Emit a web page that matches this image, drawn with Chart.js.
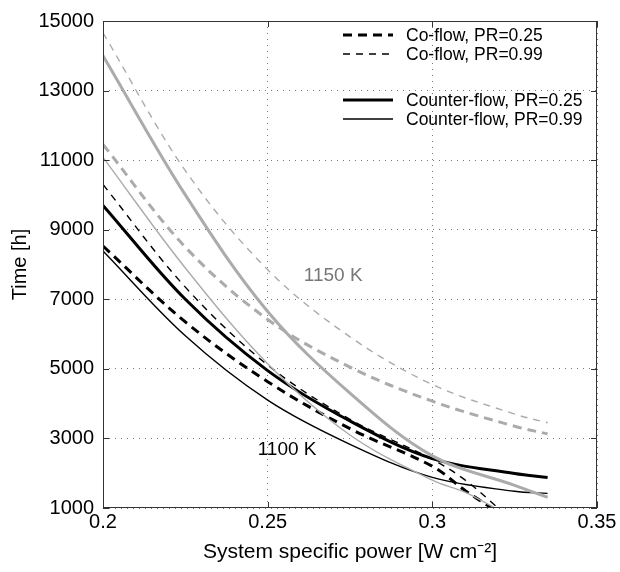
<!DOCTYPE html>
<html lang="en">
<head>
    <meta charset="UTF-8">
    <title>Time vs system specific power</title>
    <script src="https://cdn.jsdelivr.net/npm/chart.js"></script>
    <style>
        html, body { margin: 0; padding: 0; background: #fff; }
        #wrap { width: 620px; height: 572px; }
    </style>
</head>
<body>
    <div id="wrap"><canvas id="lifeChart"></canvas></div>
<script>
    // x positions (system specific power, W cm-2)
    var xFull = [0.2, 0.225, 0.25, 0.275, 0.3, 0.325, 0.335];
    var xBlackCo25 = [0.2, 0.225, 0.25, 0.275, 0.3, 0.31, 0.318];
    var xBlackCo99 = [0.2, 0.225, 0.25, 0.275, 0.3, 0.31, 0.32];
    var xGrayCnt99 = [0.2, 0.225, 0.25, 0.275, 0.3, 0.31, 0.319];

    // 1150 K (grey)
    var grayCo99 = [14660, 10700, 7850, 5920, 4550, 3700, 3450];
    var grayCnt25 = [14000, 10000, 6650, 4300, 2500, 1650, 1310];
    var grayCo25 = [11450, 8500, 6420, 5050, 4070, 3350, 3130];
    var grayCnt99 = [11080, 7900, 5150, 3100, 1800, 1450, 1000];

    // 1100 K (black)
    var blackCo99 = [10300, 7350, 5110, 3550, 2400, 1800, 1000];
    var blackCnt25 = [9700, 7000, 4950, 3500, 2420, 1990, 1880];
    var blackCo25 = [8530, 6350, 4630, 3280, 2200, 1500, 1000];
    var blackCnt99 = [8390, 5950, 4100, 2830, 1880, 1480, 1420];

    var xTicks = [0.2, 0.25, 0.3, 0.35];
    var yTicks = [1000, 3000, 5000, 7000, 9000, 11000, 13000, 15000];

    var FONT = "'Liberation Sans', Arial, Helvetica, sans-serif";
    var GRAY = '#ababab';

    function pts(xs, ys) {
        return xs.map(function (x, i) { return { x: x, y: ys[i] }; });
    }

    function series(label, xs, ys, color, width, dash, inLegend) {
        return {
            label: label,
            data: pts(xs, ys),
            borderColor: color,
            borderWidth: width,
            borderDash: dash,
            pointRadius: 0,
            fill: false,
            tension: 0.35,
            inLegend: inLegend
        };
    }

    var datasets = [
        series('1150 K Co-flow, PR=0.99', xFull, grayCo99, GRAY, 1.4, [7, 6], false),
        series('1150 K Co-flow, PR=0.25', xFull, grayCo25, GRAY, 3, [9, 6], false),
        series('1150 K Counter-flow, PR=0.25', xFull, grayCnt25, GRAY, 3, [], false),
        series('1150 K Counter-flow, PR=0.99', xGrayCnt99, grayCnt99, GRAY, 1.4, [], false),
        series('Co-flow, PR=0.25', xBlackCo25, blackCo25, '#000', 3, [9, 6], true),
        series('Co-flow, PR=0.99', xBlackCo99, blackCo99, '#000', 1.4, [7, 6], true),
        series('Counter-flow, PR=0.25', xFull, blackCnt25, '#000', 3, [], true),
        series('Counter-flow, PR=0.99', xFull, blackCnt99, '#000', 1.4, [], true)
    ];

    // box, inward ticks, text labels and legend inside the axes
    var framePlugin = {
        id: 'frame',
        afterDatasetsDraw: function (chart) {
            var ctx = chart.ctx;
            var a = chart.chartArea;
            var xs = chart.scales.x, ys = chart.scales.y;
            ctx.save();
            ctx.strokeStyle = '#333';
            ctx.lineWidth = 1;
            ctx.setLineDash([]);
            ctx.strokeRect(a.left + 0.5, a.top + 0.5, a.right - a.left - 1, a.bottom - a.top - 1);
            ctx.beginPath();
            xTicks.forEach(function (v) {
                var px = Math.round(xs.getPixelForValue(v)) + 0.5;
                ctx.moveTo(px, a.bottom); ctx.lineTo(px, a.bottom - 6);
                ctx.moveTo(px, a.top); ctx.lineTo(px, a.top + 6);
            });
            yTicks.forEach(function (v) {
                var py = Math.round(ys.getPixelForValue(v)) + 0.5;
                ctx.moveTo(a.left, py); ctx.lineTo(a.left + 6, py);
                ctx.moveTo(a.right, py); ctx.lineTo(a.right - 6, py);
            });
            ctx.stroke();

            ctx.font = '19px ' + FONT;
            ctx.textAlign = 'center';
            ctx.textBaseline = 'middle';
            ctx.fillStyle = '#777';
            ctx.fillText('1150 K', xs.getPixelForValue(0.2699), ys.getPixelForValue(7680));
            ctx.fillStyle = '#000';
            ctx.fillText('1100 K', xs.getPixelForValue(0.2559), ys.getPixelForValue(2674));

            // legend
            var rows = [35, 54, 100, 119];
            var items = chart.data.datasets.filter(function (d) { return d.inLegend; });
            ctx.font = '17.5px ' + FONT;
            ctx.textAlign = 'left';
            items.forEach(function (d, i) {
                ctx.beginPath();
                ctx.strokeStyle = d.borderColor;
                ctx.lineWidth = d.borderWidth;
                ctx.setLineDash(d.borderDash);
                ctx.moveTo(343, rows[i]);
                ctx.lineTo(393, rows[i]);
                ctx.stroke();
                ctx.fillStyle = '#000';
                ctx.fillText(d.label, 406, rows[i] + 1);
            });
            ctx.restore();
        }
    };

    new Chart(document.getElementById('lifeChart').getContext('2d'), {
        type: 'line',
        data: { datasets: datasets },
        plugins: [framePlugin],
        options: {
            responsive: true,
            maintainAspectRatio: false,
            animation: false,
            layout: { padding: { left: 0, right: 23, top: 15, bottom: 0 } },
            plugins: { legend: { display: false }, tooltip: { enabled: false } },
            scales: {
                x: {
                    type: 'linear',
                    min: 0.2,
                    max: 0.35,
                    afterFit: function (s) { s.height = 64; },
                    afterBuildTicks: function (s) { s.ticks = xTicks.map(function (v) { return { value: v }; }); },
                    ticks: {
                        color: '#000',
                        padding: 2,
                        font: { family: FONT, size: 20 },
                        callback: function (v) { return String(Number(v.toFixed(2))); }
                    },
                    grid: { color: '#777', drawTicks: false },
                    border: { display: false, dash: [1, 5] },
                    title: {
                        display: true,
                        text: 'System specific power [W cm\u207B\u00B2]',
                        color: '#000',
                        font: { family: FONT, size: 21 },
                        padding: { top: 0, bottom: 7 }
                    }
                },
                y: {
                    type: 'linear',
                    min: 1000,
                    max: 15000,
                    afterFit: function (s) { s.width = 103; },
                    afterBuildTicks: function (s) { s.ticks = yTicks.map(function (v) { return { value: v }; }); },
                    ticks: {
                        color: '#000',
                        padding: 9,
                        font: { family: FONT, size: 20 },
                        callback: function (v) { return String(v); }
                    },
                    grid: { color: '#777', drawTicks: false },
                    border: { display: false, dash: [1, 5] },
                    title: {
                        display: true,
                        text: 'Time [h]',
                        color: '#000',
                        font: { family: FONT, size: 20 },
                        padding: { top: 8, bottom: 0 }
                    }
                }
            }
        }
    });
</script>
</body>
</html>
